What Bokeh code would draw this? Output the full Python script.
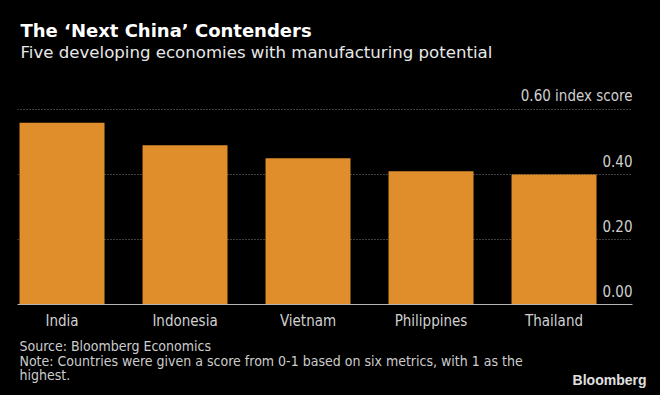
from bokeh.plotting import figure
from bokeh.models import Range1d, FixedTicker, Title
from bokeh.core.properties import value
from bokeh.embed import file_html
from bokeh.resources import INLINE

countries = ["India", "Indonesia", "Vietnam", "Philippines", "Thailand"]
scores = [0.56, 0.49, 0.45, 0.41, 0.40]
tick_values = [0.0, 0.2, 0.4, 0.6]
tick_labels = ["0.00", "0.20", "0.40", "0.60 index score"]

title = "The \u2018Next China\u2019 Contenders"
subtitle = "Five developing economies with manufacturing potential"
footer = [
    "Source: Bloomberg Economics",
    "Note: Countries were given a score from 0-1 based on six metrics, with 1 as the",
    "highest.",
]
brand = "Bloomberg"

COND = "DejaVu Sans Condensed, Liberation Sans Narrow, sans-serif"
REG = "DejaVu Sans, sans-serif"
BAR = "#e08e2b"

xs = list(range(len(countries)))
x0, x1 = -0.362, 4.638

p = figure(width=660, height=395, output_backend="svg", toolbar_location=None,
           x_range=Range1d(x0, x1), y_range=Range1d(0, 0.739),
           y_axis_location=None, min_border_left=17, min_border_right=28,
           min_border_top=64, min_border_bottom=91)
p.background_fill_color = None
p.border_fill_color = None
p.outline_line_color = None
p.outline_line_alpha = 0
p.xgrid.visible = False

p.ygrid.ticker = FixedTicker(ticks=tick_values[1:])
p.ygrid.grid_line_color = "#808080"
p.ygrid.grid_line_dash = "1 2"
p.ygrid.grid_line_width = 1

p.vbar(x=xs, top=scores, width=0.691, color=BAR, line_color=None)

ax = p.xaxis[0]
ax.ticker = FixedTicker(ticks=xs)
ax.major_label_overrides = {i: c for i, c in zip(xs, countries)}
ax.major_tick_in = 0
ax.major_tick_out = 0
ax.minor_tick_line_color = None
ax.axis_line_color = "#b5b5b5"
ax.axis_line_width = 1
ax.major_label_text_color = "#d0d0d0"
ax.major_label_text_font = COND
ax.major_label_text_font_size = "15px"
ax.major_label_standoff = 7

p.text(x=[x1] * len(tick_values), y=tick_values, text=tick_labels,
       text_align="right", text_baseline="middle", y_offset=-14,
       text_color="#d0d0d0", text_font=value(COND), text_font_size="15px")

p.title.text = title
p.title.align = "left"
p.title.offset = 3
p.title.text_font = REG
p.title.text_font_size = "18px"
p.title.text_font_style = "bold"
p.title.text_color = "#ffffff"
p.title.standoff = -5

p.add_layout(Title(text=subtitle, align="left", offset=3, text_font=REG,
                   text_font_size="16.6px", text_font_style="normal",
                   text_color="#e8e8e8", standoff=5), "above")

stand = [6, -11, 2]
for t, s in zip(footer, stand):
    p.add_layout(Title(text=t, align="left", offset=2, text_font=COND,
                       text_font_size="14px", text_font_style="normal",
                       text_color="#cccccc", standoff=s), "below")
p.add_layout(Title(text=brand, align="right", offset=-14, vertical_align="top",
                   text_font="Liberation Sans, Arial, sans-serif",
                   text_font_size="14px", text_font_style="bold",
                   text_color="#e0e0e0", standoff=-24), "below")

html = file_html(p, INLINE)
html = html.replace("<body>", '<body style="background:#000000;">', 1)
html = html.replace("<head>", "<head><style>html{background:#000000;}</style>", 1)
open("out.html", "w").write(html)
